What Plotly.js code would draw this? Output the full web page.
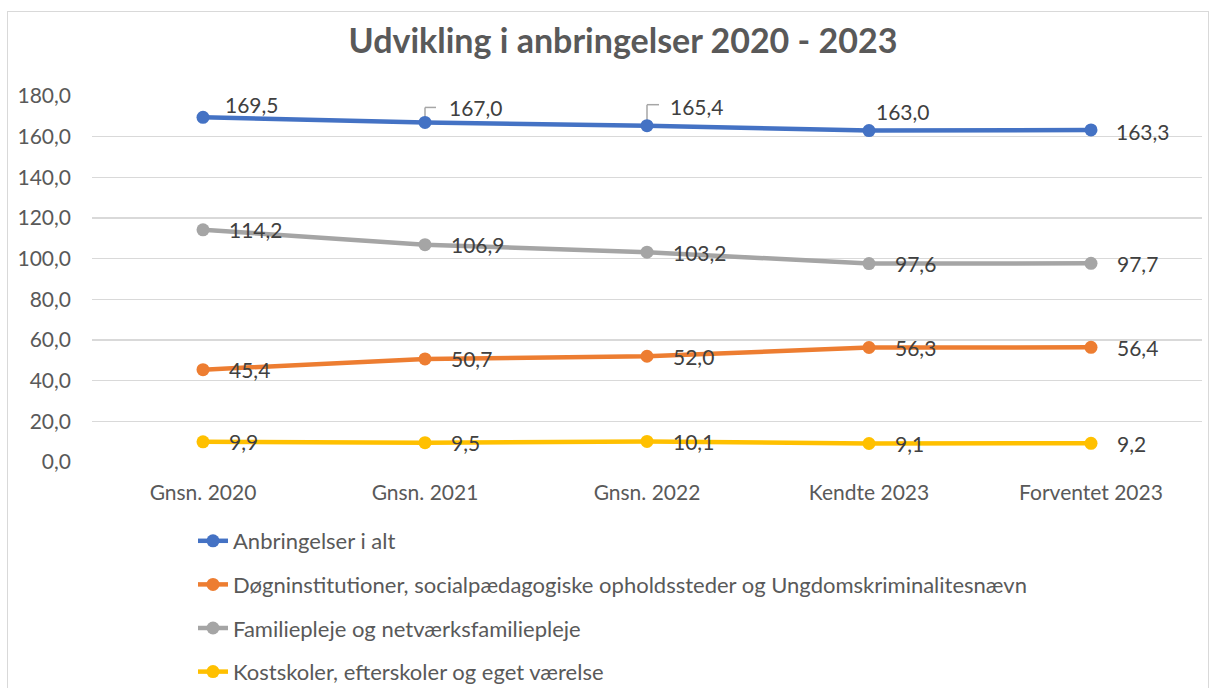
<!DOCTYPE html>
<html>
<head>
<meta charset="utf-8">
<script src="https://cdn.plot.ly/plotly-3.0.1.min.js"></script>
<style>
  html, body { margin: 0; padding: 0; background: #ffffff; overflow: hidden; }
  #frame { position: absolute; left: 7px; top: 11px; width: 1200px; height: 700px; border: 1px solid #d9d9d9; }
  #chart { position: absolute; left: 0; top: 0; width: 1218px; height: 688px; }
</style>
</head>
<body>
<div id="frame"></div>
<div id="chart"></div>
<script>
const categories = ['Gnsn. 2020', 'Gnsn. 2021', 'Gnsn. 2022', 'Kendte 2023', 'Forventet 2023'];
const seriesNames = [
  'Anbringelser i alt',
  'Døgninstitutioner, socialpædagogiske opholdssteder og Ungdomskriminalitesnævn',
  'Familiepleje og netværksfamiliepleje',
  'Kostskoler, efterskoler og eget værelse'
];
const totalValues = [169.5, 167.0, 165.4, 163.0, 163.3];
const institutionValues = [45.4, 50.7, 52.0, 56.3, 56.4];
const familyValues = [114.2, 106.9, 103.2, 97.6, 97.7];
const schoolValues = [9.9, 9.5, 10.1, 9.1, 9.2];
const yTickValues = [0, 20, 40, 60, 80, 100, 120, 140, 160, 180];

const seriesValues = [totalValues, institutionValues, familyValues, schoolValues];
const colors = ['#4472C4', '#ED7D31', '#A5A5A5', '#FFC000'];
const FONT = 'Lato, "Open Sans", sans-serif';

const traces = seriesValues.map((vals, i) => ({
  type: 'scatter',
  mode: 'lines+markers',
  x: categories,
  y: vals,
  name: seriesNames[i],
  legendgroup: 'g' + i,
  line: { color: colors[i], width: 4.5 },
  marker: { color: colors[i], size: 13 },
  hoverinfo: 'skip'
}));

function fmt(v) { return v.toFixed(1).replace('.', ','); }

// label offsets (pixels) per series/point
const blueShifts = [[20, 13], [22, 15], [21, 19], [5, 19], [23, -2]];
const annotations = [];
seriesValues.forEach((vals, i) => {
  vals.forEach((v, j) => {
    let xs = 24, ys = 0;
    if (i === 0) { xs = blueShifts[j][0]; ys = blueShifts[j][1]; }
    annotations.push({
      x: categories[j], y: v, xref: 'x', yref: 'y',
      text: fmt(v), showarrow: false,
      xanchor: 'left', yanchor: 'middle',
      xshift: xs, yshift: ys,
      font: { family: FONT, size: 21, color: '#404040' }
    });
  });
});

// leader lines for two blue labels
const leaderPoints = [[1, 15, 11], [2, 21, 12]];
const shapes = [];
leaderPoints.forEach(([j, up, right]) => {
  shapes.push({
    type: 'line', layer: 'below', xref: 'x', yref: 'y',
    xsizemode: 'pixel', ysizemode: 'pixel',
    xanchor: categories[j], yanchor: totalValues[j],
    x0: 0, x1: 0, y0: 0, y1: up,
    line: { color: '#A6A6A6', width: 1.5 }
  });
  shapes.push({
    type: 'line', layer: 'below', xref: 'x', yref: 'y',
    xsizemode: 'pixel', ysizemode: 'pixel',
    xanchor: categories[j], yanchor: totalValues[j],
    x0: 0, x1: right, y0: up, y1: up,
    line: { color: '#A6A6A6', width: 1.5 }
  });
});

const layout = {
  width: 1218, height: 688,
  margin: { l: 92, r: 16, t: 96, b: 226, autoexpand: false },
  paper_bgcolor: 'rgba(0,0,0,0)',
  plot_bgcolor: 'rgba(0,0,0,0)',
  separators: ',.',
  font: { family: FONT, color: '#595959', size: 21 },
  title: {
    text: '<b>Udvikling i anbringelser 2020 - 2023</b>',
    font: { family: FONT, size: 34, color: '#595959' },
    x: 623 / 1218, xanchor: 'center', xref: 'container',
    y: 1 - 41 / 688, yanchor: 'middle', yref: 'container'
  },
  xaxis: {
    type: 'category',
    categoryarray: categories,
    range: [-0.5, categories.length - 0.5],
    showgrid: false, zeroline: false, showline: false,
    ticks: '', ticklabelstandoff: 16, tickangle: 0,
    tickfont: { family: FONT, size: 21, color: '#595959' },
    fixedrange: true
  },
  yaxis: {
    range: [0, 180],
    tickvals: yTickValues,
    tickformat: '.1f',
    showgrid: true, gridcolor: '#D9D9D9', gridwidth: 1.3,
    zeroline: false, showline: false,
    ticks: '', ticklabelstandoff: 20,
    tickfont: { family: FONT, size: 21, color: '#595959' },
    fixedrange: true
  },
  showlegend: true,
  legend: {
    orientation: 'v',
    xref: 'container', yref: 'container',
    x: 193 / 1218, xanchor: 'left',
    y: 1 - 520 / 688, yanchor: 'top',
    traceorder: 'grouped',
    tracegroupgap: 12,
    font: { family: FONT, size: 22, color: '#595959' },
    bgcolor: 'rgba(0,0,0,0)'
  },
  annotations: annotations,
  shapes: shapes
};

Plotly.newPlot('chart', traces, layout, { displayModeBar: false, staticPlot: true });
</script>
</body>
</html>
